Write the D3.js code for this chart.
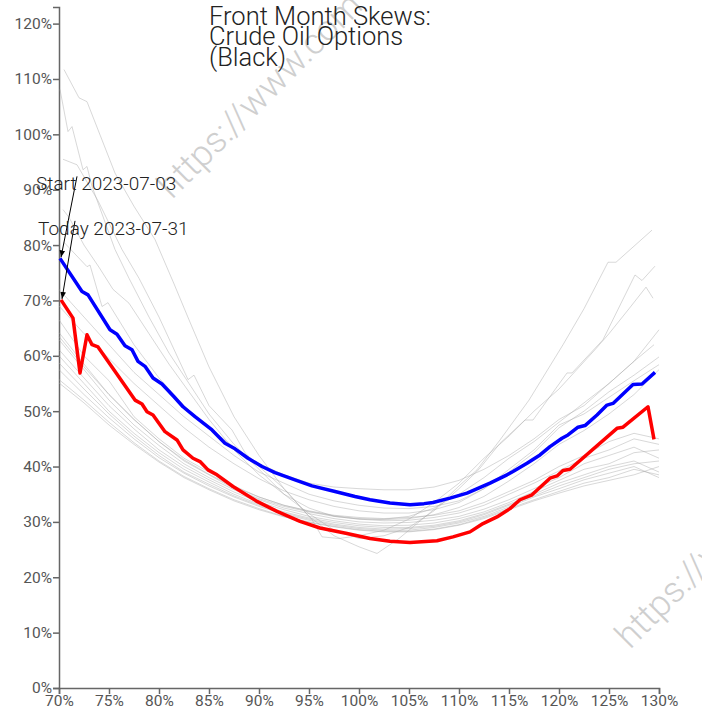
<!DOCTYPE html>
<html><head><meta charset="utf-8">
<script src="https://cdn.jsdelivr.net/npm/d3@7/dist/d3.min.js"></script>
<style>body{margin:0;background:#fff} text{font-family:Roboto,"Open Sans",sans-serif}</style>
</head><body><svg id="c" width="702" height="719"></svg>
<script>
const titleLines = ["Front Month Skews:", "Crude Oil Options", "(Black)"];
const startLabel = "Start 2023-07-03";
const todayLabel = "Today 2023-07-31";
const watermark = "https://www.com";
const xTicks = [70, 75, 80, 85, 90, 95, 100, 105, 110, 115, 120, 125, 130];
const yTicks = [0, 10, 20, 30, 40, 50, 60, 70, 80, 90, 100, 110, 120];

// Start (2023-07-03) skew: [strike %, vol %]
const startSkew = [[70.1,77.6],[72.3,71.6],[72.9,71.0],[75.1,64.7],[75.8,63.9],[76.6,61.8],[77.3,61.1],[77.9,59.0],[78.6,58.1],[79.4,56.0],[80.3,54.9],[81.5,52.6],[82.4,50.8],[83.6,49.0],[85.3,46.6],[86.6,44.2],[87.6,43.2],[88.9,41.5],[90.3,40.0],[91.6,38.9],[93.6,37.6],[95.3,36.5],[97.6,35.5],[99.6,34.6],[101.1,34.0],[103.1,33.4],[105.1,33.1],[106.5,33.3],[107.4,33.5],[109.1,34.3],[110.8,35.2],[113.1,37.0],[114.8,38.5],[115.4,39.1],[116.8,40.6],[118.1,42.1],[119.1,43.6],[120.3,45.1],[120.9,45.7],[121.9,47.1],[122.6,47.4],[123.8,49.3],[124.8,51.1],[125.4,51.4],[127.4,54.8],[128.3,54.9],[129.6,57.0]];

// Today (2023-07-31) skew
const todaySkew = [[70.2,70.1],[71.4,66.8],[72.1,56.9],[72.8,63.8],[73.3,62.0],[73.9,61.6],[77.6,52.0],[78.3,51.3],[78.8,49.9],[79.4,49.3],[80.6,46.3],[81.8,44.8],[82.4,43.0],[83.4,41.5],[84.1,40.9],[84.9,39.4],[85.8,38.5],[87.4,36.4],[89.8,33.7],[91.8,31.9],[94.1,30.1],[96.1,28.9],[98.8,27.9],[99.6,27.6],[101.1,27.0],[103.1,26.5],[105.1,26.3],[107.8,26.6],[109.4,27.3],[111.1,28.2],[112.4,29.7],[113.8,30.9],[115.1,32.4],[116.1,34.0],[117.3,34.9],[119.1,37.9],[119.8,38.3],[120.4,39.3],[121.1,39.5],[125.8,46.9],[126.4,47.1],[128.9,50.8],[129.5,44.9]];

// Other days in the month: common strike grid
const gridStrikes = [70,72.5,75,77.5,80,82.5,85,87.5,90,92.5,95,97.5,100,102.5,105,107.5,110,112.5,115,117.5,120,122.5,125,127.5,130];
const day01 = [66.5,60,55.5,49,45,41.5,39,36.5,34.5,33,32,31.2,30.8,30.6,30.8,31.2,32,33.5,35.5,37.5,40,42,44.5,46,45];
const day02 = [64.2,58.5,53,48.5,44.5,41,38.5,36,34.2,32.8,31.8,31,30.5,30.2,30.3,30.8,31.6,33,35,37,39.2,41.5,43,45,44];
const day03 = [62.9,57.5,52,47.5,43.8,40.5,38,35.8,34,32.5,31.5,30.6,30,29.8,29.9,30.3,31,32.3,34,36,38,40.5,42,43.5,41.5];
const day04 = [61.1,56,51,46.8,43,40,37.6,35.4,33.6,32.2,31,30.2,29.6,29.3,29.4,29.8,30.6,31.8,33.5,35.5,37.5,39.5,40.5,42.5,43];
const day05 = [60,55,50,46,42.5,39.5,37.2,35,33.2,31.8,30.7,29.9,29.3,29,29,29.4,30.2,31.5,33.2,35,37,38.5,40,41,39];
const day06 = [58.7,54,49.5,45.5,42,39,36.8,34.7,33,31.6,30.5,29.6,29,28.7,28.8,29.2,30,31.3,33,34.7,36.5,38,39.5,40.5,41];
const day07 = [57.5,53,48.8,45,41.6,38.8,36.5,34.5,32.8,31.4,30.3,29.4,28.8,28.5,28.5,29,29.8,31,32.7,34.5,36,37.6,38.8,40,38];
const day08 = [55.7,52,48,44.3,41,38.2,36,34,32.4,31,30,29.2,28.6,28.3,28.3,28.7,29.5,30.8,32.4,34,35.5,37,38,39.5,38.5];
const day09 = [55.1,51.5,47.5,44,40.8,38,35.8,33.8,32.2,30.9,29.9,29.1,28.5,28.2,28.2,28.6,29.4,30.6,32.2,33.8,35.2,36.5,37.5,38.5,40];
const day10 = [72,67,62,57,53,49,45.5,42,39,37,35,33.8,33,32.5,32.4,32.8,33.8,36,39,42.5,47,50,53.5,56.5,59.8];
const day11 = [69,64,59.5,55,51,47,43.5,40.5,37.8,35.6,34,32.8,32,31.6,31.6,32.2,33.5,36,39.5,43,47.5,49.5,52.5,55.5,58.4];
const day12 = [63.5,58,53,48.5,44.5,41.2,38.6,36.3,34.5,33,31.9,31.1,30.6,30.4,30.6,31.3,32.6,34.6,37.4,40.5,44,46.5,49.5,53,57.5];
// Other days with their own strikes: [strike %, vol %]
const day13 = [[70.5,80.5],[72.8,76.1],[73.1,76.4],[74.3,68.9],[74.9,69.6],[77.5,62],[80,56],[82.5,51],[85,47],[87.5,43.5],[90,40.5],[92.5,38.5],[95,37],[97.5,36.3],[100,36],[102.5,35.8],[105,35.8],[107.5,36.3],[110,37.5],[112.5,39.5],[115,42],[117.5,45],[120,48.5],[122.5,51],[125,55],[127.5,59],[130,64.7]];
const day14 = [[70.5,111.7],[72,106.6],[72.8,105.9],[75.6,93],[77.5,87],[79.6,81],[81.5,73],[83,66.5],[85,58],[87.5,49],[90,42],[92.5,36],[95,31],[97.5,27.5],[100,25.5],[101.8,24.3],[104,27],[106,30],[108,33],[110,36.5],[111.8,39.4],[114.1,44.8],[117,52],[120.4,62],[122.5,68.5],[124.9,76.9],[125.7,76.9],[129.3,82.7]];
const day15 = [[70.1,108.1],[70.9,100.5],[71.3,101.4],[72.4,93.6],[72.8,94.2],[73.3,90.6],[75.6,79.2],[77,74],[79,67],[81,60.5],[83,55],[85,49.5],[87.5,44],[90,39.5],[92.5,35],[95,31.5],[97.5,28.5],[100,27],[102.5,27.5],[105,29],[107.5,32],[110,36],[112,39.5],[114.1,44.2],[116.6,48.4],[117.4,48.4],[120.8,56.9],[121.3,56.9],[124.4,62.9],[127.6,74.6],[128.3,73.6],[129.6,76.2]];
const day16 = [[70.4,95.5],[71.8,94.5],[73.9,88],[76.3,79.2],[78,74],[80,67],[82.9,55.7],[83.5,56.5],[85,51],[87.3,46.6],[88.6,42.5],[90,40],[92.5,36],[95.3,30.4],[96.3,27.3],[98,27],[100,27.5],[102.5,28.5],[105,30.5],[107.5,33.5],[110,37],[112.5,41.5],[115,45.5],[117.5,50],[120,54],[123.6,61.1],[125,64],[127,68.5],[128.7,72.4],[129.4,70.4]];
const day17 = [[70.4,86.4],[71,85],[72.5,80],[74,76],[75.4,72],[77,69.5],[79,64],[81,58.5],[83,53.5],[85,48.5],[87.5,43],[90,38.5],[92.5,35],[95,32.5],[97.5,31],[100,30.5],[102.5,30.5],[105,31],[107.5,32.5],[110,35],[112.5,38],[115,41.5],[117.5,44.5],[120,48],[122.5,51.5],[125,55],[127.5,59],[129.5,62]];

const gridDays = [day01,day02,day03,day04,day05,day06,day07,day08,day09,day10,day11,day12];
const pairDays = [day13,day14,day15,day16,day17];

const svg = d3.select("#c");
const x = d3.scaleLinear().domain([70,130]).range([59,659]);
const y = d3.scaleLinear().domain([0,123]).range([688,7]);
const line = d3.line().x(d=>x(d[0])).y(d=>y(d[1]));

// watermarks
const wm = svg.append("g").attr("fill","#cfcfcf").attr("font-size",36).attr("font-weight",300);
wm.append("text").attr("transform","translate(172,200) rotate(-45)").text(watermark);
wm.append("text").attr("transform","translate(630,650) rotate(-45)").text(watermark);

// axes
const fmt = d=>d+"%";
const yAxis = svg.append("g").attr("transform","translate(59,0)")
  .call(d3.axisLeft(y).tickValues(yTicks).tickFormat(fmt).tickSizeOuter(6));
const xAxis = svg.append("g").attr("transform","translate(0,688)")
  .call(d3.axisBottom(x).tickValues(xTicks).tickFormat(fmt).tickSizeOuter(6));
[xAxis,yAxis].forEach(a=>{
  a.selectAll("path,line").attr("stroke","#666").attr("stroke-width",1.5);
  a.selectAll("text").attr("fill","#555").style("font-size","15.5px").style("font-family","Roboto");
});
yAxis.selectAll("text").attr("x",-7);
xAxis.selectAll("text").attr("dy","0.85em").attr("y",5);

// gray lines
const g = svg.append("g").attr("fill","none").attr("stroke","#a8a8a8").attr("stroke-opacity",0.45).attr("stroke-width",1);
gridDays.forEach(v=>g.append("path").attr("d", line(v.map((d,i)=>[gridStrikes[i],d]))));
pairDays.forEach(v=>g.append("path").attr("d", line(v)));

svg.append("path").attr("d",line(startSkew)).attr("fill","none").attr("stroke","#0000ff").attr("stroke-width",3.5).attr("stroke-linejoin","round");
svg.append("path").attr("d",line(todaySkew)).attr("fill","none").attr("stroke","#ff0000").attr("stroke-width",3.5).attr("stroke-linejoin","round");

// title
const t = svg.append("text").attr("x",209).attr("y",25).attr("font-size",25.5).attr("font-weight",300).attr("fill","#222");
titleLines.forEach((s,i)=>t.append("tspan").attr("x",209).attr("dy",i?20.3:0).text(s));

// annotations
svg.append("defs").append("marker").attr("id","ah").attr("viewBox","0 0 10 10").attr("refX",10).attr("refY",5)
  .attr("markerWidth",7).attr("markerHeight",7).attr("orient","auto")
  .append("path").attr("d","M0,1L10,5L0,9Z").attr("fill","#000");
function annotate(pt, label, tx, ty, lx, ly){
  const px = x(pt[0]), py = y(pt[1]);
  svg.append("line").attr("x1",px+lx).attr("y1",py+ly).attr("x2",px+1).attr("y2",py-1)
    .attr("stroke","#000").attr("stroke-width",1).attr("marker-end","url(#ah)");
  svg.append("text").attr("x",px+tx).attr("y",py+ty).attr("font-size",19).attr("font-weight",300).attr("fill","#222").text(label);
}
annotate(startSkew[0], startLabel, -24, -68, 17, -82);
annotate(todaySkew[0], todayLabel, -23, -65, 14, -79);
</script></body></html>
